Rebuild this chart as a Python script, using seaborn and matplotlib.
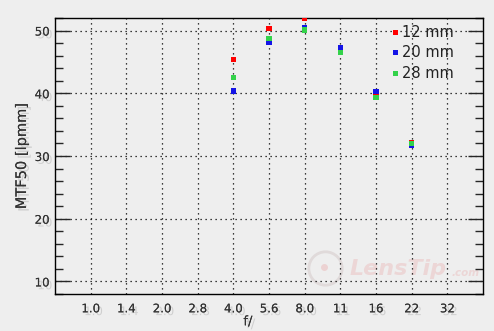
import numpy as np
import pandas as pd
import matplotlib
matplotlib.use("Agg")
import matplotlib.pyplot as plt
import matplotlib.patheffects as pe
from matplotlib.ticker import MultipleLocator
import seaborn as sns

f_labels = ["1.0", "1.4", "2.0", "2.8", "4.0", "5.6", "8.0", "11", "16", "22", "32"]
apertures = ["4.0", "5.6", "8.0", "11", "16", "22"]
mtf_12mm = [45.4, 50.3, 51.9, 47.2, 40.1, 32.1]
mtf_20mm = [40.4, 48.2, 50.4, 47.2, 40.3, 31.7]
mtf_28mm = [42.5, 48.7, 50.1, 46.5, 39.3, 32.0]
series = ["12 mm", "20 mm", "28 mm"]
colors = ["#ff0000", "#1414e6", "#33d24a"]

rows = []
for name, vals in zip(series, [mtf_12mm, mtf_20mm, mtf_28mm]):
    for a, v in zip(apertures, vals):
        rows.append({"pos": f_labels.index(a), "mtf": v, "focal": name})
df = pd.DataFrame(rows)

sns.set_style("white")
plt.rcParams['font.family'] = ['DejaVu Sans']
bg = "#eeeeee"
fig = plt.figure(figsize=(4.94, 3.31), dpi=100, facecolor=bg)
ax = fig.add_axes([55/494, 1-294/331, (483-55)/494, (294-18)/331])
ax.set_facecolor(bg)

shadow = [pe.withSimplePatchShadow(offset=(2, -2), shadow_rgbFace="#888888", alpha=0.3), pe.Normal()]

# watermark
wm = "#ecd6d6"
ax.text(8.62, 12.0, "LensTip", fontsize=16, fontstyle="italic", fontweight="bold",
        color=wm, ha="center", va="center", zorder=0)
ax.text(10.5, 11.4, ".com", fontsize=7.5, fontstyle="italic", fontweight="bold",
        color=wm, ha="center", va="center", zorder=0)
ax.plot([6.57], [12.2], marker="o", markersize=24, markerfacecolor="none",
        markeredgecolor="#e0dada", markeredgewidth=2, zorder=0)
ax.plot([6.55], [12.3], marker="o", markersize=5, markerfacecolor="#ecd2d2",
        markeredgecolor="none", zorder=0)

sns.scatterplot(data=df, x="pos", y="mtf", hue="focal", hue_order=series,
                palette=colors, marker="s", s=16, linewidth=0, ax=ax, zorder=3)

ax.set_xlim(-1, 11)
ax.set_ylim(8, 52)
ax.set_xticks(range(len(f_labels)))
ax.set_xticklabels(f_labels)
ax.yaxis.set_major_locator(MultipleLocator(10))
ax.yaxis.set_minor_locator(MultipleLocator(2))
ax.tick_params(axis="x", length=0, pad=6, labelsize=8.5, labelcolor="#333333")
ax.tick_params(axis="y", which="major", direction="in", length=11, width=1,
               left=True, right=True, labelsize=8.5, labelcolor="#333333", pad=4)
ax.tick_params(axis="y", which="minor", direction="in", length=5.5, width=1,
               left=True, right=True)
for lab in ax.get_xticklabels() + ax.get_yticklabels():
    lab.set_path_effects(shadow)

ax.grid(True, which="major", color="black", linestyle=(0, (1, 3)), linewidth=0.9)
ax.set_axisbelow(True)
for s in ax.spines.values():
    s.set_visible(True)
    s.set_color("black")
    s.set_linewidth(1)

ax.set_xlabel("f/", fontsize=9.5, color="#333333", labelpad=0, path_effects=shadow)
ax.xaxis.label.set_x((248 - 55) / 428)
ax.set_ylabel("MTF50 [lpmm]", fontsize=10.5, color="#333333", labelpad=4, path_effects=shadow)

leg = ax.legend(loc="upper left", frameon=False, fontsize=10.5, handletextpad=0.25,
                handlelength=0.5, markerscale=0.9, borderaxespad=0.0, borderpad=0.0,
                labelspacing=0.38, bbox_to_anchor=(0.785, 0.975))
for t in leg.get_texts():
    t.set_color("#222222")

fig.savefig("out.png", dpi=100, facecolor=bg)
